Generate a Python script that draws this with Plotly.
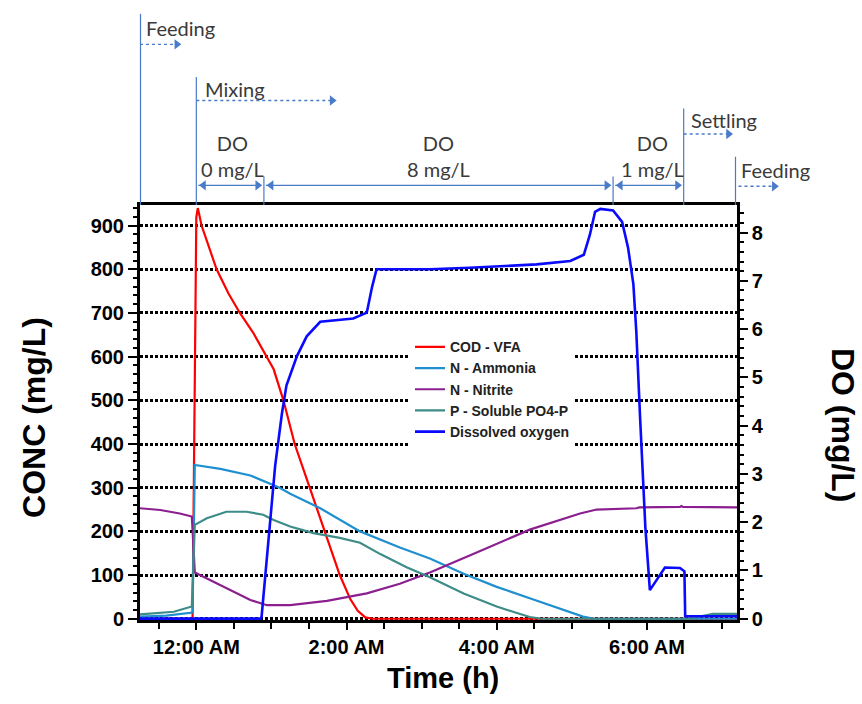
import plotly.graph_objects as go

# ---------------- data (hours after start of mixing) ----------------
hours_cod = [-0.75, -0.05, 0.0, 0.02, 0.07, 0.27, 0.43, 0.58, 0.76, 0.94, 1.03, 1.16, 1.31,
             1.51, 1.71, 1.91, 2.05, 2.15, 2.25, 2.35, 7.2]
cod_vfa = [0, 0, 920, 940, 900, 800, 744, 700, 654, 600, 571, 500, 400,
           300, 200, 100, 45, 18, 3, 0, 0]

hours_nh4 = [-0.75, -0.4, -0.05, -0.02, 0.32, 0.72, 1.11, 1.25, 1.65, 2.18, 2.71, 3.11,
             3.56, 4.0, 4.44, 4.89, 5.15, 5.3, 7.2]
ammonia = [5, 7, 14, 352, 343, 328, 300, 286, 253, 200, 163, 138,
           103, 73, 47, 20, 5, 0, 0]

hours_no2 = [-0.75, -0.48, -0.22, -0.06, -0.02, 0.36, 0.72, 0.94, 1.25, 1.74, 2.27, 2.71,
             3.11, 3.78, 4.44, 5.11, 5.33, 5.86, 5.9, 6.44, 6.46, 6.48, 7.2]
nitrite = [253, 249, 241, 234, 106, 73, 43, 31, 31, 41, 58, 80,
           106, 155, 204, 241, 250, 253, 255, 256, 258, 256, 255]

hours_po4 = [-0.75, -0.3, -0.06, -0.02, 0.14, 0.4, 0.67, 0.89, 1.03, 1.25, 1.56, 1.91,
             2.18, 2.45, 2.8, 3.11, 3.56, 4.0, 4.27, 4.44, 4.6, 6.55, 6.7, 6.88, 7.2]
po4 = [10, 16, 28, 215, 230, 245, 245, 238, 226, 211, 196, 185,
       174, 148, 118, 95, 58, 28, 13, 4, 0, 0, 5, 11, 11]

hours_do = [-0.75, 0.86, 0.87, 0.96, 1.05, 1.14, 1.2, 1.34, 1.47, 1.65, 1.91, 2.09, 2.27,
            2.34, 2.4, 3.11, 3.64, 4.53, 4.98, 5.16, 5.24, 5.31, 5.38, 5.55, 5.67, 5.75,
            5.82, 5.86, 5.91, 5.93, 5.98, 6.04, 6.13, 6.24, 6.44, 6.5, 6.51, 7.2]
dissolved_oxygen = [0, 0, 0.05, 1.54, 3.17, 4.25, 4.83, 5.44, 5.85, 6.15, 6.19, 6.22, 6.34,
                    6.87, 7.24, 7.24, 7.27, 7.34, 7.41, 7.54, 7.95, 8.43, 8.49, 8.46, 8.22, 7.68,
                    6.93, 5.92, 4.15, 3.58, 1.88, 0.59, 0.79, 1.06, 1.05, 0.98, 0.05, 0.05]

tick_hours = [0, 2, 4, 6]
tick_labels = ["12:00 AM", "2:00 AM", "4:00 AM", "6:00 AM"]

# phase boundaries (hours)
feed1_start, mix_start, aer_start, low_start, settle_start, feed2_start = -0.75, 0.0, 0.9, 5.55, 6.49, 7.18

# ---------------- geometry ----------------
W, H = 862, 704
PL, PR, PT, PB = 140, 737, 208, 629   # plot area in pixels
X_MIN, X_MAX = -0.75, 7.2
Y_MIN, Y_MAX = -3, 947
Y2_MIN, Y2_MAX = -0.03, 8.57
ppx = (PR - PL) / (X_MAX - X_MIN)       # pixels per hour
X2_MIN = X_MIN - PL / ppx
X2_MAX = X_MIN + (W - PL) / ppx

ARROW_C = "#4a7bc8"
TXT_C = "#3a3a3a"
BOLD = dict(family="Liberation Sans, Arial", color="black", weight="bold")

fig = go.Figure()

series = [
    ("COD - VFA", hours_cod, cod_vfa, "#ff0000", 2.2, "y"),
    ("N - Ammonia", hours_nh4, ammonia, "#1f8fd0", 2.2, "y"),
    ("N - Nitrite", hours_no2, nitrite, "#8b1f8f", 2.2, "y"),
    ("P - Soluble PO4-P", hours_po4, po4, "#3d8c88", 2.2, "y"),
    ("Dissolved oxygen", hours_do, dissolved_oxygen, "#0a0aff", 2.6, "y2"),
]
for name, xs, ys, col, w, yax in series:
    fig.add_trace(go.Scatter(x=xs, y=ys, name=name, mode="lines",
                             line=dict(color=col, width=w), xaxis="x", yaxis=yax))

# ---------------- phase annotation layer (top subplot, units: px above plot) ----------------
head = 9
tip = head / 3 ** 0.5 / ppx  # hours from marker centre to tip


def arrow(x0, x1, lvl, dotted=False, double=False):
    fig.add_trace(go.Scatter(x=[x0, x1 - tip], y=[lvl, lvl], mode="lines",
                             line=dict(color=ARROW_C, width=1.4 if dotted else 1.2,
                                       dash="dot" if dotted else "solid"),
                             xaxis="x2", yaxis="y3", showlegend=False, hoverinfo="skip",
                             cliponaxis=False))
    xs, syms = [x1 - tip], ["triangle-right"]
    if double:
        xs.append(x0 + tip)
        syms.append("triangle-left")
    fig.add_trace(go.Scatter(x=xs, y=[lvl] * len(xs), mode="markers",
                             marker=dict(symbol=syms, size=head, color=ARROW_C),
                             xaxis="x2", yaxis="y3", showlegend=False, hoverinfo="skip",
                             cliponaxis=False))


def vline(x, top):
    fig.add_shape(type="line", xref="x2", yref="y3", x0=x, x1=x, y0=0, y1=top,
                  line=dict(color=ARROW_C, width=1.2))


def label(x, y, text, anchor="left"):
    fig.add_annotation(x=x, y=y, xref="x2", yref="y3", text=text, showarrow=False,
                       xanchor=anchor, yanchor="middle", align="center",
                       font=dict(family="Lato, Open Sans", size=20, color=TXT_C))


vline(feed1_start + 0.5 / ppx, 194)
label(feed1_start + 4 / ppx, 180, "Feeding")
arrow(feed1_start, feed1_start + 42 / ppx, 163, dotted=True)

vline(mix_start, 130)
label(mix_start + 7 / ppx, 118, "Mixing")
arrow(mix_start, mix_start + 141 / ppx, 106, dotted=True)

vline(aer_start, 29)
vline(low_start, 29)
for a, b in [(mix_start, aer_start), (aer_start, low_start), (low_start, settle_start)]:
    arrow(a + 2 / ppx, b - 1 / ppx, 20, double=True)
label((mix_start + aer_start) / 2 + 2 / ppx, 50, "DO<br>0 mg/L", anchor="center")
label((aer_start + low_start) / 2, 50, "DO<br>8 mg/L", anchor="center")
label((low_start + settle_start) / 2 + 4 / ppx, 50, "DO<br>1 mg/L", anchor="center")

vline(settle_start, 98)
label(settle_start + 5 / ppx, 86, "Settling")
arrow(settle_start, settle_start + 50 / ppx, 72, dotted=True)

vline(feed2_start, 49)
label(feed2_start + 3 / ppx, 36, "Feeding")
arrow(feed2_start + 3 / ppx, feed2_start + 44 / ppx, 19, dotted=True)

# ---------------- axis titles ----------------
fig.add_annotation(x=34 / W, y=1 - 424 / H, xref="paper", yref="paper", text="CONC (mg/L)",
                   textangle=-90, showarrow=False, xanchor="center", yanchor="middle",
                   font=dict(size=32, **BOLD))
fig.add_annotation(x=843 / W, y=1 - 431 / H, xref="paper", yref="paper", text="DO (mg/L)",
                   textangle=90, showarrow=False, xanchor="center", yanchor="middle",
                   font=dict(size=32, **BOLD))
fig.add_annotation(x=443 / W, y=1 - 688 / H, xref="paper", yref="paper", text="Time (h)",
                   showarrow=False, xanchor="center", yanchor="middle",
                   font=dict(size=29, **BOLD))

tickfont = dict(size=20, **BOLD)
fig.update_layout(
    width=W, height=H, margin=dict(l=0, r=0, t=0, b=0),
    plot_bgcolor="white", paper_bgcolor="white",
    xaxis=dict(domain=[PL / W, PR / W], range=[X_MIN, X_MAX], anchor="y",
               tickmode="array", tickvals=tick_hours, ticktext=tick_labels,
               ticks="outside", ticklen=7, tickwidth=2, tickcolor="black",
               showline=True, linecolor="black", linewidth=2.5, mirror=True,
               showgrid=False, zeroline=False, tickfont=tickfont,
               minor=dict(tickmode="linear", tick0=0, dtick=0.5, ticks="outside",
                          ticklen=6, tickwidth=1.5, tickcolor="black", showgrid=False)),
    yaxis=dict(domain=[1 - PB / H, 1 - PT / H], range=[Y_MIN, Y_MAX], anchor="x",
               tick0=0, dtick=100, ticks="outside", ticklen=9, tickwidth=2, tickcolor="black",
               showline=True, linecolor="black", linewidth=3,
               showgrid=True, gridcolor="black", gridwidth=3, griddash="3px,2px",
               zeroline=False, tickfont=tickfont,
               minor=dict(tick0=0, dtick=20, ticks="outside", ticklen=4, tickwidth=1.5,
                          tickcolor="black", showgrid=False)),
    yaxis2=dict(overlaying="y", side="right", anchor="x", range=[Y2_MIN, Y2_MAX],
                tick0=0, dtick=1, ticks="outside", ticklen=8, tickwidth=2, tickcolor="black",
                showline=True, linecolor="black", linewidth=2.5, showgrid=False,
                zeroline=False, tickfont=tickfont,
                minor=dict(tick0=0, dtick=0.2, ticks="outside", ticklen=4, tickwidth=1.5,
                           tickcolor="black", showgrid=False)),
    xaxis2=dict(domain=[0, 1], range=[X2_MIN, X2_MAX], anchor="y3", visible=False),
    yaxis3=dict(domain=[1 - PT / H, 1], range=[0, PT], anchor="x2", visible=False),
    legend=dict(x=410 / W, y=1 - 336 / H, xanchor="left", yanchor="top",
                bgcolor="white", borderwidth=0, tracegroupgap=0,
                font=dict(family="Liberation Sans, Arial", size=14, color="#222", weight="bold")),
    showlegend=True,
)

fig.write_html("out.html", config={"displayModeBar": False},
               post_script="document.body.style.margin='0px';document.body.style.overflow='hidden';")
